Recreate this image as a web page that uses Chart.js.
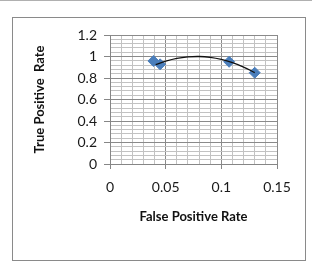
<!DOCTYPE html>
<html>
<head>
<meta charset="utf-8">
<script src="https://cdn.jsdelivr.net/npm/chart.js@4"></script>
<style>
  html, body { margin: 0; padding: 0; background: #fff; }
  #wrap { position: relative; width: 312px; height: 266px; border-top: 1px solid #b0b0b0; box-sizing: border-box; }
  #frame { position: absolute; left: 12px; top: 16px; width: 294px; height: 244px; border: 1px solid #8a8a8a; box-sizing: border-box; }
  canvas { position: absolute; left: 0; top: 0; }
</style>
</head>
<body>
<div id="wrap">
  <div id="frame"></div>
  <canvas id="chart-roc" width="312" height="266"></canvas>
</div>
<script>
// measured points (FPR, TPR)
const fprValues = [0.039, 0.045, 0.107, 0.130];
const tprValues = [0.958, 0.927, 0.951, 0.849];

// trend line
const trendX = [0.041, 0.05, 0.06, 0.07, 0.08, 0.09, 0.10, 0.11, 0.12, 0.13];
const trendY = [0.925, 0.956, 0.982, 0.996, 1.0, 0.992, 0.973, 0.943, 0.902, 0.85];

const xMajor = 0.05, xMinor = 0.01;
const yMajor = 0.2, yMinor = 0.04;

const FONT = 'Lato, "Open Sans", sans-serif';

function isMajor(v, step) {
  const r = v / step;
  return Math.abs(r - Math.round(r)) < 1e-6;
}

function gridColor(step) {
  return ctx => (ctx.tick && isMajor(ctx.tick.value, step)) ? '#8a8a8a' : '#c2c2c2';
}

function tickMarkColor(step) {
  return ctx => (ctx.tick && isMajor(ctx.tick.value, step)) ? '#868686' : 'rgba(0,0,0,0)';
}

const rocCtx = document.getElementById('chart-roc').getContext('2d');
const rocChart = new Chart(rocCtx, {
  type: 'scatter',
  data: {
    datasets: [
      {
        label: 'trend',
        data: trendX.map((x, i) => ({ x: x, y: trendY[i] })),
        showLine: true,
        borderColor: '#111',
        borderWidth: 1.3,
        pointRadius: 0,
        tension: 0.4,
        fill: false,
        order: 1,
      },
      {
        label: 'ROC',
        data: fprValues.map((x, i) => ({ x: x, y: tprValues[i] })),
        pointStyle: 'rectRot',
        pointRadius: 5.5,
        backgroundColor: '#4a7ebb',
        borderColor: '#4a7ebb',
        borderWidth: 1,
        order: 2,
      }
    ]
  },
  options: {
    responsive: false,
    animation: false,
    layout: { padding: { left: 24, top: 34, right: 35, bottom: 30 } },
    plugins: { legend: { display: false }, tooltip: { enabled: false } },
    scales: {
      x: {
        type: 'linear',
        min: 0, max: 0.15,
        afterFit: s => { s.height = 73; },
        ticks: {
          stepSize: xMinor,
          autoSkip: false,
          maxRotation: 0,
          padding: 10,
          color: '#1a1a1a',
          font: { family: FONT, size: 14 },
          callback: v => isMajor(v, xMajor) ? String(+v.toFixed(2)) : '',
        },
        grid: { color: gridColor(xMajor), tickColor: tickMarkColor(xMajor), tickLength: 5, lineWidth: 1 },
        border: { color: '#868686' },
        title: {
          display: true,
          text: 'False Positive Rate',
          color: '#111',
          font: { family: FONT, size: 13, weight: 'bold' },
          padding: { top: 4, bottom: 12 },
        },
      },
      y: {
        type: 'linear',
        min: 0, max: 1.2,
        afterFit: s => { s.width = 86; },
        ticks: {
          stepSize: yMinor,
          autoSkip: false,
          padding: 7,
          color: '#1a1a1a',
          font: { family: FONT, size: 14 },
          callback: v => isMajor(v, yMajor) ? String(+v.toFixed(1)) : '',
        },
        grid: { color: gridColor(yMajor), tickColor: tickMarkColor(yMajor), tickLength: 6, lineWidth: 1 },
        border: { color: '#868686' },
        title: {
          display: true,
          text: 'True Positive  Rate',
          color: '#111',
          font: { family: FONT, size: 13, weight: 'bold' },
          padding: { top: 8, bottom: 4 },
        },
      }
    }
  }
});
</script>
</body>
</html>
